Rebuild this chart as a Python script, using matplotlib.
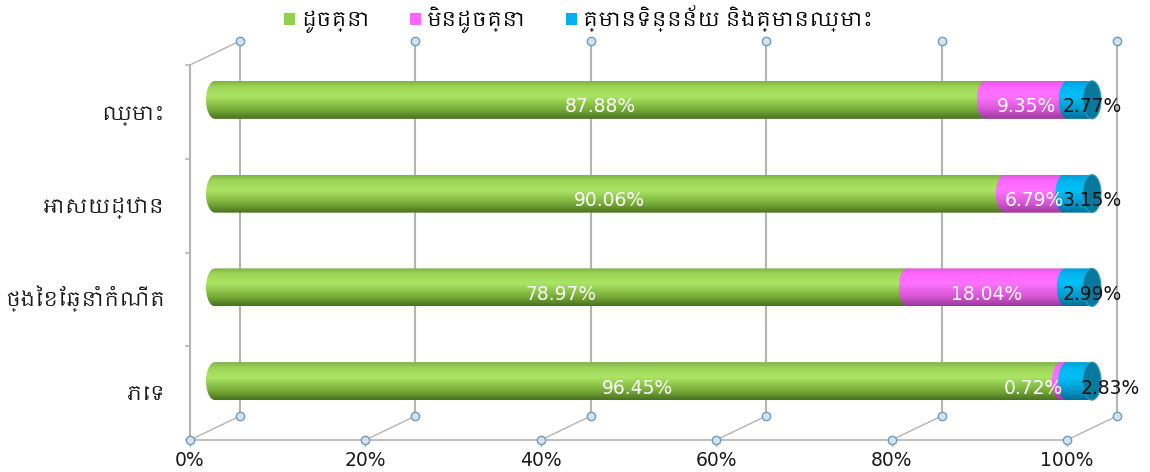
import numpy as np
import matplotlib
matplotlib.use("Agg")
import matplotlib.pyplot as plt
from matplotlib import font_manager
from matplotlib.path import Path
from matplotlib.patches import PathPatch, Ellipse, Patch
from matplotlib.colors import LinearSegmentedColormap

# data (bottom to top)
categories = ["ភេទ", "ថ្ងៃខែឆ្នាំកំណើត", "អាសយដ្ឋាន", "ឈ្មោះ"]
same = [96.45, 78.97, 90.06, 87.88]
not_same = [0.72, 18.04, 6.79, 9.35]
no_data = [2.83, 2.99, 3.15, 2.77]
series_names = ["ដូចគ្នា", "មិនដូចគ្នា", "គ្មានទិន្នន័យ និងគ្មានឈ្មោះ"]
x_ticks = [0, 20, 40, 60, 80, 100]

# look for a font that has khmer glyphs, numbers stay in DejaVu
khmer = [f.name for f in font_manager.fontManager.ttflist if "khmer" in f.name.lower()]
kh_fam = khmer[:1] + ["DejaVu Sans"]
plt.rcParams["font.family"] = ["DejaVu Sans"]

fig = plt.figure(figsize=(11.5, 4.72), dpi=100)
ax = fig.add_axes([0, 0, 1, 1])
ax.set_axis_off()

px = 8.77      # pixels per percent
py = 93.75     # pixels per category band
dx, dy = 50 / px, 24 / py       # depth of the 3d box
bx, by = dx / 2, dy / 2         # bars sit in the middle
bh = 38 / py                    # bar thickness
ca = 9 / px                     # half width of the end ellipse

grid_c = "#b4b4b4"
mk = dict(marker="o", ms=6, mfc="#cfe4f2", mec="#6f9cbd", mew=1, ls="none", zorder=3)

# back wall gridlines
for t in x_ticks:
    ax.plot([t + dx, t + dx], [dy, 4 + dy], color=grid_c, lw=1.5, zorder=1)
    ax.plot([t, t + dx], [0, dy], color=grid_c, lw=1, zorder=1)
    ax.plot([t + dx, t + dx], [dy, 4 + dy], **mk)
    ax.plot([t], [0], **mk)
    ax.plot([t, t], [0, -0.06], color=grid_c, lw=1, zorder=1)
    ax.text(t, -0.12, f"{t}%", ha="center", va="top", fontsize=13.5, color="#1a1a1a")

# front axes
ax.plot([0, 100], [0, 0], color=grid_c, lw=1.2, zorder=1)
ax.plot([0, 0], [0, 4], color=grid_c, lw=1.5, zorder=1)
ax.plot([0, dx], [4, 4 + dy], color=grid_c, lw=1, zorder=1)
for k in range(5):
    ax.plot([-0.5, 0], [k, k], color=grid_c, lw=1.2, zorder=1)

for i, c in enumerate(categories):
    ax.text(-2.85, i + 0.5 - 0.075, c, ha="right", va="baseline", fontsize=14.5,
            color="#1a1a1a", family=kh_fam)

cmaps = [
    LinearSegmentedColormap.from_list("g", [(0, "#4a7320"), (0.25, "#78ad38"), (0.6, "#abe564"),
                                            (0.85, "#9ed657"), (1, "#7fb344")]),
    LinearSegmentedColormap.from_list("p", [(0, "#9c389c"), (0.25, "#d656d6"), (0.6, "#ff72ff"),
                                            (0.85, "#ff66ff"), (1, "#e159e1")]),
    LinearSegmentedColormap.from_list("b", [(0, "#006f98"), (0.25, "#0098cb"), (0.6, "#00c0f6"),
                                            (0.85, "#00b6ee"), (1, "#009fd6")]),
]
legend_cols = ["#92d050", "#ff66ff", "#00b0f0"]
grad = np.linspace(0, 1, 64).reshape(-1, 1)


def segment_path(x0, x1, yc, right_cap):
    th = np.linspace(np.pi / 2, 3 * np.pi / 2, 30)
    left = np.column_stack([x0 + ca * np.cos(th), yc + bh / 2 * np.sin(th)])
    if right_cap:
        th2 = np.linspace(-np.pi / 2, np.pi / 2, 30)
        right = np.column_stack([x1 + ca * np.cos(th2), yc + bh / 2 * np.sin(th2)])
    else:
        right = np.array([[x1, yc - bh / 2], [x1, yc + bh / 2]])
    verts = np.vstack([left, right, left[:1]])
    codes = [Path.MOVETO] + [Path.LINETO] * (len(verts) - 2) + [Path.CLOSEPOLY]
    return Path(verts, codes)


for i in range(len(categories)):
    yc = i + 0.5 + by
    vals = [same[i], not_same[i], no_data[i]]
    start = 0
    for j, v in enumerate(vals):
        x0, x1 = start + bx, start + v + bx
        last = j == len(vals) - 1
        patch = PathPatch(segment_path(x0, x1, yc, last), fc="none", ec="none", zorder=4 + j)
        ax.add_patch(patch)
        im = ax.imshow(grad, cmap=cmaps[j], origin="lower", aspect="auto", zorder=4 + j,
                       extent=(x0 - ca, x1 + ca, yc - bh / 2, yc + bh / 2), interpolation="bilinear")
        im.set_clip_path(patch)
        start += v
    # end cap
    ax.add_patch(Ellipse((start + bx, yc), 2 * ca, bh, fc="#08799d", ec="#2a9cc4", lw=0.8, zorder=8))

    # value labels
    ly = yc - 0.075
    fs = 13.5
    ax.text(same[i] / 2 + bx, ly, f"{same[i]:.2f}%", ha="center", va="center",
            fontsize=fs, color="white", zorder=9)
    pc = same[i] + not_same[i] / 2 + bx
    if not_same[i] < 3:
        ax.text(same[i] + not_same[i] + bx - 0.45, ly, f"{not_same[i]:.2f}%", ha="right",
                va="center", fontsize=fs, color="white", zorder=9)
        bl = 100 + bx + 2.1
    else:
        ax.text(pc, ly, f"{not_same[i]:.2f}%", ha="center", va="center",
                fontsize=fs, color="white", zorder=9)
        bl = 100 + bx
    ax.text(bl, ly, f"{no_data[i]:.2f}%", ha="center", va="center",
            fontsize=fs, color="#111111", zorder=9)

ax.set_xlim(-190 / px, (1150 - 190) / px)
ax.set_ylim(-32 / py, (472 - 32) / py)

handles = [Patch(fc=c, ec="none") for c in legend_cols]
fig.legend(handles, series_names, loc="upper center", bbox_to_anchor=(0.503, 1.028), ncol=3,
           frameon=False, prop=dict(family=kh_fam, size=14.5), handlelength=0.55,
           handleheight=0.55, handletextpad=0.3, columnspacing=2.0)

fig.savefig("out.png", dpi=100)
